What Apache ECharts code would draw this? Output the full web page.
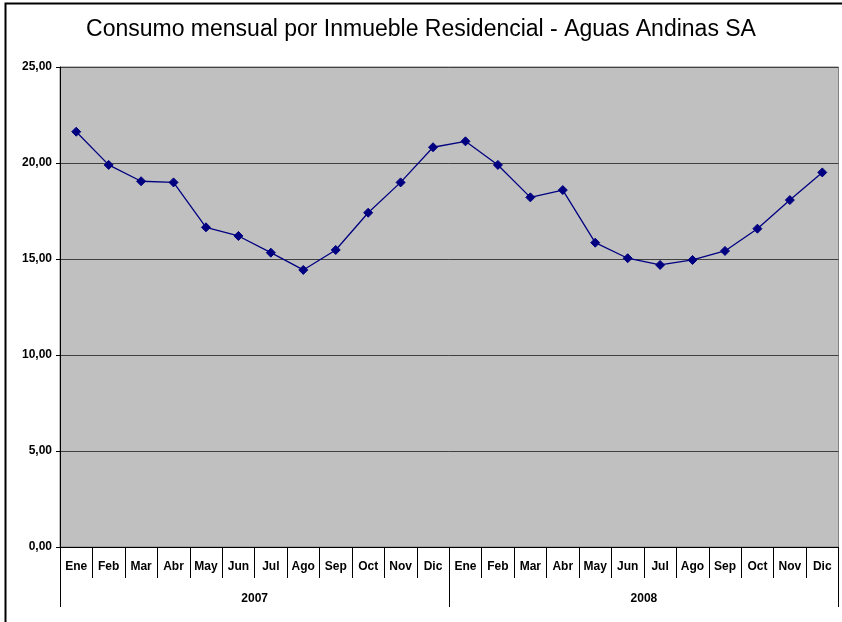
<!DOCTYPE html>
<html>
<head>
<meta charset="utf-8">
<script src="https://cdn.jsdelivr.net/npm/echarts@6/dist/echarts.min.js"></script>
<style>
html,body{margin:0;padding:0;background:#fff;}
#chart{width:842px;height:622px;}
</style>
</head>
<body>
<div id="chart"></div>
<script>
const titleText = 'Consumo mensual por Inmueble Residencial - Aguas Andinas SA';
const months = ['Ene','Feb','Mar','Abr','May','Jun','Jul','Ago','Sep','Oct','Nov','Dic',
                'Ene','Feb','Mar','Abr','May','Jun','Jul','Ago','Sep','Oct','Nov','Dic'];
const years = ['2007','2008'];
const consumo = [21.63, 19.90, 19.05, 18.99, 16.65, 16.20, 15.33, 14.43, 15.47, 17.41, 18.99, 20.82,
                 21.13, 19.90, 18.21, 18.59, 15.85, 15.04, 14.69, 14.95, 15.42, 16.58, 18.07, 19.51];
const yTicks = {min: 0, max: 25, interval: 5};

const chart = echarts.init(document.getElementById('chart'), null, {renderer: 'canvas'});
const labelFont = {fontFamily: 'Liberation Sans, Arial, sans-serif', fontWeight: 'bold', fontSize: 12, color: '#000'};

chart.setOption({
  animation: false,
  backgroundColor: '#fff',
  title: {
    text: titleText,
    left: 'center',
    top: 13,
    textStyle: {fontFamily: 'Liberation Sans, Arial, sans-serif', fontWeight: 'normal', fontSize: 23, color: '#000'}
  },
  graphic: [{
    type: 'polyline',
    shape: {points: [[5.5, 622], [5.5, 3.5], [842, 3.5]]},
    style: {stroke: '#000', lineWidth: 2, fill: null},
    silent: true
  }],
  grid: {
    left: 60, top: 67, right: 3.5, bottom: 75,
    show: true, backgroundColor: '#c0c0c0', borderColor: '#808080', borderWidth: 1
  },
  xAxis: [{
    type: 'category',
    data: months,
    boundaryGap: true,
    position: 'bottom',
    axisLine: {show: true, lineStyle: {color: '#000', width: 1}},
    axisTick: {show: true, interval: 0, length: 31, lineStyle: {color: '#000', width: 1}},
    axisLabel: Object.assign({interval: 0, margin: 14}, labelFont),
    splitLine: {show: false}
  }, {
    type: 'category',
    data: years,
    boundaryGap: true,
    position: 'bottom',
    offset: 31,
    axisLine: {show: false},
    axisTick: {show: true, interval: 0, length: 29, lineStyle: {color: '#000', width: 1}},
    axisLabel: Object.assign({interval: 0, margin: 15}, labelFont),
    splitLine: {show: false}
  }],
  yAxis: {
    type: 'value',
    min: yTicks.min, max: yTicks.max, interval: yTicks.interval,
    axisLine: {show: true, lineStyle: {color: '#000', width: 1}},
    axisTick: {show: true, length: 4, lineStyle: {color: '#000'}},
    axisLabel: Object.assign({margin: 8, formatter: v => v.toFixed(2).replace('.', ',')}, labelFont),
    splitLine: {show: true, lineStyle: {color: '#404040', width: 1}}
  },
  series: [{
    type: 'line',
    xAxisIndex: 0,
    data: consumo,
    symbol: 'diamond',
    symbolSize: 9,
    showAllSymbol: true,
    lineStyle: {color: '#000080', width: 1.3},
    itemStyle: {color: '#000080', borderColor: '#000080'}
  }]
});
</script>
</body>
</html>
